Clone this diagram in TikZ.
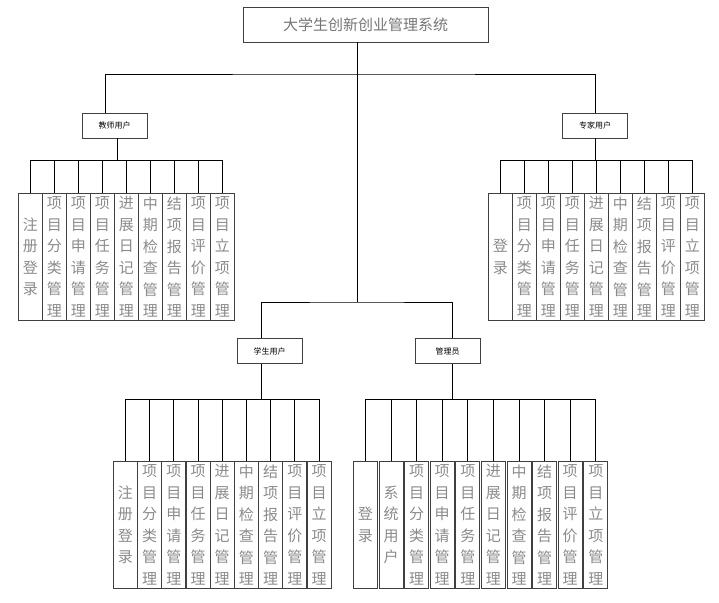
\documentclass[tikz,border=0pt]{standalone}
\usepackage{fontspec}
\newfontfamily\cjk{Noto Sans CJK SC}
\usetikzlibrary{positioning, calc}
\definecolor{boxline}{HTML}{404040}
\definecolor{leaftext}{HTML}{8A8A8A}
% stack the characters of a label one under the other
\makeatletter
\newcommand{\vlab}[1]{\expandafter\vlab@\expandafter{#1}}
\def\vlab@#1{\setlength{\parskip}{0pt}\@tfor\vch:=#1\do{\vch\par}}
\makeatother

\begin{document}
\begin{tikzpicture}[x=1pt, y=-1pt, line width=0.8pt,
  sysbox/.style={draw=boxline, minimum width=245, minimum height=35, inner sep=0pt,
                 font=\cjk\fontsize{15}{18}\selectfont, text=leaftext!85!black},
  rolebox/.style={draw=boxline, minimum width=65, minimum height=25, inner sep=0pt,
                  font=\cjk\fontsize{8}{10}\selectfont},
  leaf/.style={draw=boxline, anchor=north west, minimum width=24, minimum height=127,
               inner sep=0pt, text width=24, align=center, text=leaftext,
               font=\cjk\fontsize{15}{21.5}\selectfont}]
  \useasboundingbox (0,0) rectangle (719,602);
  % root
  \node[sysbox] (sys) at (365.5,24.5) {大学生创新创业管理系统};
  \coordinate (top) at (357,74);
  \coordinate (low) at (357,302);
  \draw (sys.south -| top) -- (low);
  % user roles
  \node[rolebox] (teacher) at (114.5,125.5) {教师用户};
  \node[rolebox] (expert)  at (595,125.5)   {专家用户};
  \node[rolebox] (student) at (269.5,351)   {学生用户};
  \node[rolebox] (admin)   at (447.5,351)   {管理员};
  \draw ([xshift=-9.5]teacher.north) |- (top) -| (expert.north);
  \draw ([xshift=-8.5]student.north) |- (low) -| ([xshift=4.5]admin.north);
  % bus heights
  \coordinate (upbus) at (0,160);
  \coordinate (lowbus) at (0,399);

  % teacher functions
  \foreach \lab [count=\i] in {注册登录,项目分类管理,项目申请管理,项目任务管理,进展日记管理,
                               中期检查管理,结项报告管理,项目评价管理,项目立项管理}{
    \node[leaf] (t\i) at ({18+24*(\i-1)},193) {\vlab{\lab}};
    \draw (t\i.north) -- (t\i.north |- upbus);
  }
  \draw (t1.north |- upbus) -- (t9.north |- upbus);
  \draw ([xshift=2.5]teacher.south) -- ([xshift=2.5]teacher.south |- upbus);

  % expert functions
  \foreach \lab [count=\i] in {登录,项目分类管理,项目申请管理,项目任务管理,进展日记管理,
                               中期检查管理,结项报告管理,项目评价管理,项目立项管理}{
    \node[leaf] (e\i) at ({488+24*(\i-1)},193) {\vlab{\lab}};
    \draw (e\i.north) -- (e\i.north |- upbus);
  }
  \draw (e1.north |- upbus) -- (e9.north |- upbus);
  \draw (expert.south) -- (expert.south |- upbus);

  % student functions
  \foreach \lab [count=\i] in {注册登录,项目分类管理,项目申请管理,项目任务管理,进展日记管理,
                               中期检查管理,结项报告管理,项目评价管理,项目立项管理}{
    \node[leaf] (s\i) at ({113+24.2*(\i-1)},461) {\vlab{\lab}};
    \draw (s\i.north) -- (s\i.north |- lowbus);
  }
  \draw (s1.north |- lowbus) -- (s9.north |- lowbus);
  \draw ([xshift=-8.5]student.south) -- ([xshift=-8.5]student.south |- lowbus);

  % admin functions
  \foreach \lab [count=\i] in {登录,系统用户,项目分类管理,项目申请管理,项目任务管理,进展日记管理,
                               中期检查管理,结项报告管理,项目评价管理,项目立项管理}{
    \node[leaf] (a\i) at ({353+25.6*(\i-1)},461) {\vlab{\lab}};
    \draw (a\i.north) -- (a\i.north |- lowbus);
  }
  \draw (a1.north |- lowbus) -- (a10.north |- lowbus);
  \draw ([xshift=4.5]admin.south) -- ([xshift=4.5]admin.south |- lowbus);
\end{tikzpicture}
\end{document}
